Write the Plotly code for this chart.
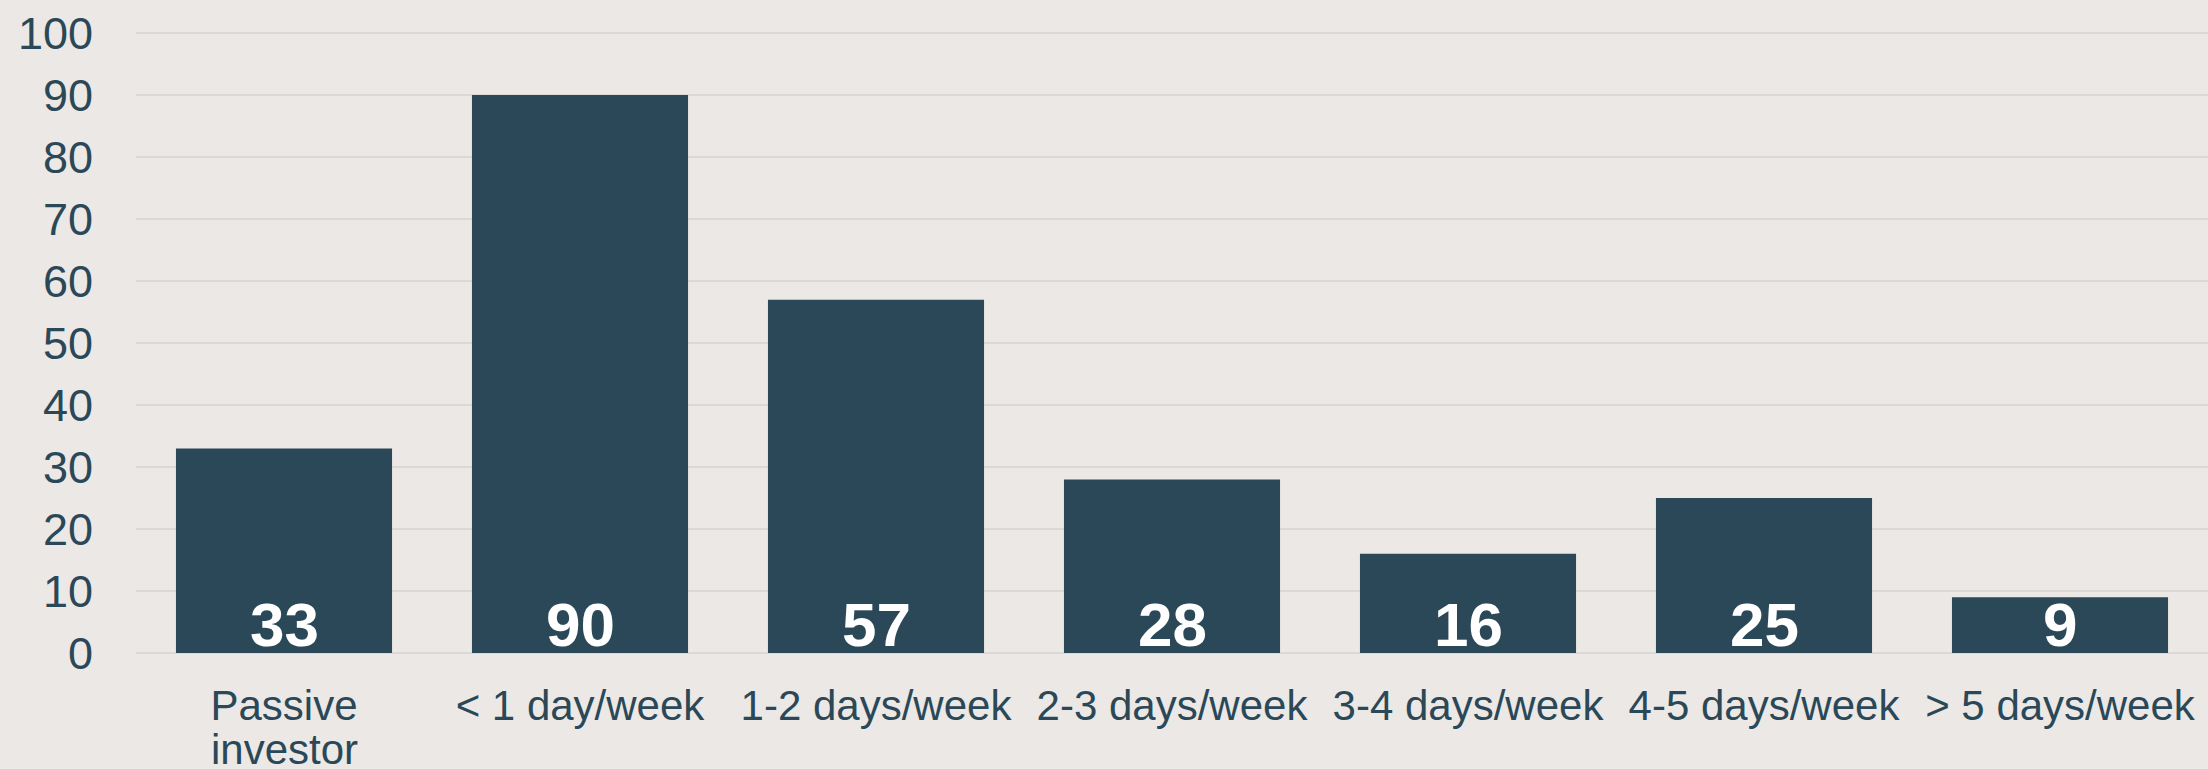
import plotly.graph_objects as go

categories = ["Passive<br>investor", "< 1 day/week", "1-2 days/week", "2-3 days/week",
              "3-4 days/week", "4-5 days/week", "> 5 days/week"]
counts = [33, 90, 57, 28, 16, 25, 9]
y_ticks = [0, 10, 20, 30, 40, 50, 60, 70, 80, 90, 100]

bar_color = "#2a4857"
bg = "#ece8e5"
font_name = "Liberation Sans, Arial, sans-serif"

fig = go.Figure(go.Bar(
    x=categories, y=counts,
    marker=dict(color=bar_color, line=dict(width=0)),
))

# value labels sitting at the foot of each bar
for cat, v in zip(categories, counts):
    fig.add_annotation(x=cat, y=0, text=str(v), showarrow=False,
                       yanchor="bottom", yshift=-8,
                       font=dict(family=font_name, size=62, color="white", weight="bold"))

# tick labels: first line on the axis, extra lines as tighter-spaced annotations
first_lines = [c.split("<br>")[0] for c in categories]
for cat in categories:
    for i, line in enumerate(cat.split("<br>")[1:], start=1):
        fig.add_annotation(x=cat, y=0, yref="paper", text=line, showarrow=False,
                           yanchor="middle", yshift=-51 - 45 * i,
                           font=dict(family=font_name, size=42, color="#2a4857"))

fig.update_layout(
    width=2208, height=769,
    paper_bgcolor=bg, plot_bgcolor=bg,
    margin=dict(l=136, r=0, t=30, b=116, autoexpand=False),
    bargap=0.27,
    showlegend=False,
    font=dict(family=font_name, color="#2a4857"),
)
fig.update_yaxes(
    range=[0, 100.5], tickvals=y_ticks, showgrid=True, gridcolor="#dbd9d7", gridwidth=2,
    zeroline=True, zerolinecolor="#dbd9d7", zerolinewidth=2,
    tickfont=dict(size=45), ticklabelstandoff=42, automargin=False,
)
fig.update_xaxes(tickvals=categories, ticktext=first_lines, tickfont=dict(size=42),
                 ticklabelstandoff=24, showline=False, automargin=False)

fig.write_html("out.html", config={"displayModeBar": False},
               post_script="document.body.style.margin='0';")
